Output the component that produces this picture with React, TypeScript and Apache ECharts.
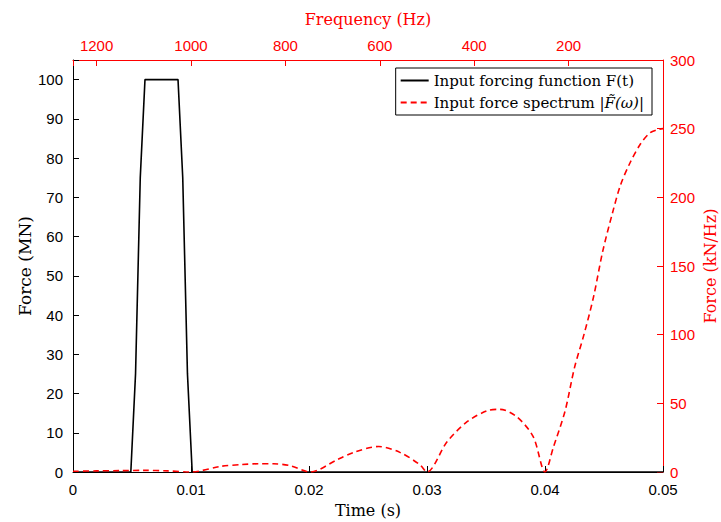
import React, { useEffect, useRef } from "react";
import * as echarts from "echarts";

const PULSE_T = [0, 0.0049, 0.0053, 0.0057, 0.0061, 0.0089, 0.0093, 0.0097, 0.0101, 0.05];
const PULSE_F = [0, 0, 25, 75, 100, 100, 75, 25, 0, 0];

const SPEC_T = [
  0, 0.002, 0.004, 0.006, 0.008, 0.01,
  0.0125, 0.0143, 0.0157, 0.017, 0.0184, 0.0201,
  0.0224, 0.0238, 0.0259, 0.0277, 0.0294, 0.03,
  0.0317, 0.0334, 0.0351, 0.0362, 0.0376, 0.039, 0.04,
  0.0407, 0.0417, 0.0425, 0.0433, 0.0441, 0.0449, 0.0457, 0.0464, 0.0472, 0.0481, 0.0489, 0.0496, 0.05,
];
const SPEC_V = [
  0.5, 0.8, 1.0, 1.2, 0.8, 0,
  4.1, 5.4, 6.0, 6.0, 4.6, 0,
  9, 14.3, 18.6, 14.3, 5.3, 0,
  22, 36.6, 44.6, 45.6, 40.3, 25.7, 0,
  17.7, 44.4, 76, 100, 127, 161, 188, 209, 225, 239, 247, 249.5, 250,
];

const TIME_TICKS = [0, 0.01, 0.02, 0.03, 0.04, 0.05];
const FREQ_RANGE = [0, 1250];

const SANS = "Liberation Sans";
const SERIF = "DejaVu Serif";

export default function App() {
  const ref = useRef<HTMLDivElement>(null);
  useEffect(() => {
    if (!ref.current) return;
    const chart = echarts.init(ref.current, undefined, { renderer: "svg" });
    const pulse = PULSE_T.map((t, i) => [t, PULSE_F[i]]);
    const spec = SPEC_T.map((t, i) => [t, SPEC_V[i]]);
    const black = "#000";
    const red = "#ff0000";
    chart.setOption({
      animation: false,
      backgroundColor: "#fff",
      grid: {
        left: 73,
        right: 58,
        top: 60,
        bottom: 50,
        containLabel: false,
        outerBoundsMode: "none",
      },
      legend: {
        orient: "vertical",
        right: 69,
        top: 68,
        backgroundColor: "#fff",
        borderColor: "#000",
        borderWidth: 1,
        borderRadius: 0,
        padding: [5, 8, 5, 4],
        itemWidth: 28,
        itemHeight: 10,
        itemGap: 7,
        itemStyle: { opacity: 0 },
        textStyle: {
          fontFamily: SERIF,
          fontSize: 15,
          color: "#000",
          rich: { i: { fontFamily: SERIF, fontStyle: "italic", fontSize: 15, color: "#000" } },
        },
        formatter: (name: string) =>
          name.startsWith("Input force spectrum") ? "Input force spectrum |{i|F\u0303(\u03c9)}|" : name,
      },
      xAxis: [
        {
          type: "value",
          position: "bottom",
          min: TIME_TICKS[0],
          max: TIME_TICKS[TIME_TICKS.length - 1],
          interval: 0.01,
          name: "Time (s)",
          nameLocation: "middle",
          nameGap: 30,
          nameTextStyle: { fontFamily: SERIF, fontSize: 16, color: black },
          axisLine: { show: true, onZero: false, lineStyle: { color: black, width: 1 } },
          axisTick: { show: true, inside: true, length: 6, lineStyle: { color: black } },
          axisLabel: {
            fontFamily: SANS,
            fontSize: 15,
            color: black,
            margin: 10,
            formatter: (v: number) => String(+v.toFixed(2)),
          },
          splitLine: { show: false },
        },
        {
          type: "value",
          position: "top",
          min: FREQ_RANGE[0],
          max: FREQ_RANGE[1],
          interval: 200,
          inverse: true,
          name: "Frequency (Hz)",
          nameLocation: "middle",
          nameGap: 33,
          nameTextStyle: { fontFamily: SERIF, fontSize: 16, color: red },
          axisLine: { show: true, onZero: false, lineStyle: { color: red, width: 1 } },
          axisTick: { show: true, inside: true, length: 6, lineStyle: { color: red } },
          axisLabel: {
            fontFamily: SANS,
            fontSize: 15,
            color: red,
            margin: 7,
            formatter: (v: number) => (v > 0 && v % 200 === 0 ? String(v) : ""),
          },
          splitLine: { show: false },
        },
      ],
      yAxis: [
        {
          type: "value",
          position: "left",
          min: 0,
          max: 105,
          interval: 10,
          name: "Force (MN)",
          nameLocation: "middle",
          nameGap: 40,
          nameRotate: 90,
          nameMoveOverlap: false,
          nameTextStyle: { fontFamily: SERIF, fontSize: 17, color: black },
          axisLine: { show: true, onZero: false, lineStyle: { color: black, width: 1 } },
          axisTick: { show: true, inside: true, length: 6, lineStyle: { color: black } },
          axisLabel: {
            fontFamily: SANS,
            fontSize: 15,
            color: black,
            margin: 10,
            formatter: (v: number) => (v % 10 === 0 ? String(v) : ""),
          },
          splitLine: { show: false },
        },
        {
          type: "value",
          position: "right",
          min: 0,
          max: 300,
          interval: 50,
          name: "Force (kN/Hz)",
          nameLocation: "middle",
          nameGap: 39,
          nameRotate: 90,
          nameMoveOverlap: false,
          nameTextStyle: { fontFamily: SERIF, fontSize: 16, color: red },
          axisLine: { show: true, onZero: false, lineStyle: { color: red, width: 1 } },
          axisTick: { show: true, inside: true, length: 6, lineStyle: { color: red } },
          axisLabel: { fontFamily: SANS, fontSize: 15, color: red, margin: 7 },
          splitLine: { show: false },
        },
      ],
      series: [
        {
          name: "Input forcing function F(t)",
          type: "line",
          xAxisIndex: 0,
          yAxisIndex: 0,
          data: pulse,
          symbol: "none",
          lineStyle: { color: black, width: 1.6 },
          itemStyle: { color: black },
          z: 2,
        },
        {
          name: "Input force spectrum |F\u0303(\u03c9)|",
          type: "line",
          xAxisIndex: 0,
          yAxisIndex: 1,
          data: spec,
          smooth: 0.3,
          symbol: "none",
          lineStyle: { color: red, width: 1.6, type: [6, 4] },
          itemStyle: { color: red },
          z: 3,
        },
      ],
    });
    return () => chart.dispose();
  }, []);
  return (
    <div
      ref={ref}
      style={{ position: "absolute", left: 0, top: 0, width: 721, height: 522 }}
    />
  );
}
